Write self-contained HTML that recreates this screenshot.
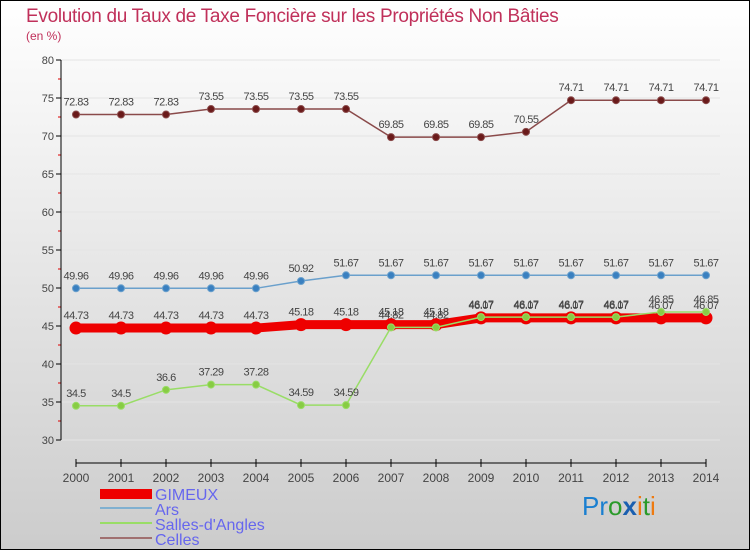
<!DOCTYPE html>
<html><head><meta charset="utf-8"><style>
html,body{margin:0;padding:0}
body{width:750px;height:550px;overflow:hidden}
svg text{font-family:"Liberation Sans",sans-serif}
</style></head><body>
<svg id="c" width="750" height="550" xmlns="http://www.w3.org/2000/svg">
<defs><linearGradient id="bg" x1="0" y1="0" x2="0" y2="1"><stop offset="0" stop-color="#ffffff"/><stop offset="1" stop-color="#cccccc"/></linearGradient></defs>
<rect x="0.5" y="0.5" width="749" height="549" fill="url(#bg)" stroke="#000"/>
<text x="26" y="22" font-size="19" fill="#c0305a" letter-spacing="-0.3">Evolution du Taux de Taxe Foncière sur les Propriétés Non Bâties</text>
<text x="26" y="40" font-size="12" fill="#c0305a">(en %)</text>
<g id="grid"></g><g id="axes"></g><g id="series"></g>
<g>
<rect x="100" y="489" width="52" height="10" fill="#e00"/>
<text x="155" y="500" font-size="16" fill="#6666ee">GIMEUX</text>
<line x1="100" y1="508" x2="152" y2="508" stroke="#80b0d0" stroke-width="2"/>
<text x="155" y="515" font-size="16" fill="#6666ee">Ars</text>
<line x1="100" y1="523" x2="152" y2="523" stroke="#99dd66" stroke-width="2"/>
<text x="155" y="530" font-size="16" fill="#6666ee">Salles-d'Angles</text>
<line x1="100" y1="538" x2="152" y2="538" stroke="#a07070" stroke-width="2"/>
<text x="155" y="545" font-size="16" fill="#6666ee">Celles</text>
</g>
<text x="582" y="515" font-size="26"><tspan fill="#1a7fd0">Pr</tspan><tspan fill="#2a9a2a">o</tspan><tspan fill="#1a5fb0" font-weight="bold">x</tspan><tspan fill="#ee7a10">i</tspan><tspan fill="#2a9a2a">t</tspan><tspan fill="#ee7a10">i</tspan></text>
</svg>
<script>
const years=[2000,2001,2002,2003,2004,2005,2006,2007,2008,2009,2010,2011,2012,2013,2014];
const gimeux=[44.73,44.73,44.73,44.73,44.73,45.18,45.18,45.18,45.18,46.07,46.07,46.07,46.07,46.07,46.07];
const ars=[49.96,49.96,49.96,49.96,49.96,50.92,51.67,51.67,51.67,51.67,51.67,51.67,51.67,51.67,51.67];
const salles=[34.5,34.5,36.6,37.29,37.28,34.59,34.59,44.82,44.82,46.17,46.17,46.17,46.17,46.85,46.85];
const celles=[72.83,72.83,72.83,73.55,73.55,73.55,73.55,69.85,69.85,69.85,70.55,74.71,74.71,74.71,74.71];
const yTicks=[30,35,40,45,50,55,60,65,70,75,80];
const NS='http://www.w3.org/2000/svg';
const X=i=>76+i*45, Y=v=>440-(v-30)*7.6;
function mk(p,t,a){const e=document.createElementNS(NS,t);for(const k in a)e.setAttribute(k,a[k]);document.getElementById(p).appendChild(e);return e;}
yTicks.forEach(t=>{
 let g=mk('grid','line',{x1:61,x2:720,y1:Y(t),y2:Y(t),stroke:'#e4e4e4'});
 
 
 let tk=mk('axes','line',{x1:56,x2:61,y1:Y(t),y2:Y(t),stroke:'#000'});
 
 
 let l=mk('axes','text',{x:54,y:Y(t)+4,'font-size':11,'text-anchor':'end',fill:'#444'});l.textContent=t;
 
 
 if(t<80){let m=mk('axes','line',{x1:58,x2:61,y1:Y(t+2.5),y2:Y(t+2.5),stroke:'#d00'});
 
 }
});
let ya=mk('axes','line',{x1:61,x2:61,y1:Y(80),y2:Y(30),stroke:'#000'});


let xa=mk('axes','line',{x1:X(0),x2:X(14),y1:463,y2:463,stroke:'#000'});


years.forEach((y,i)=>{
 let tk=mk('axes','line',{x1:X(i),x2:X(i),y1:459,y2:467,stroke:'#000'});
 
 
 let l=mk('axes','text',{x:X(i),y:482,'font-size':12,'text-anchor':'middle',fill:'#444'});l.textContent=y;
 
 
});
function series(name,vals,color,dot,w,r){
 let pl=mk('series','polyline',{points:vals.map((v,i)=>X(i)+','+Y(v)).join(' '),fill:'none',stroke:color,'stroke-width':w});
 
 
 vals.forEach((v,i)=>{
  let c=mk('series','circle',{cx:X(i),cy:Y(v),r:r,fill:dot,stroke:color,'stroke-width':1});
  
  
  let t=mk('series','text',{x:X(i),y:Y(v)-9,'font-size':11,'text-anchor':'middle',fill:'#444','letter-spacing':'-0.5'});t.textContent=v;
  
  
 });
}
series('celles',celles,'#8a4a4a','#6a1a1a',1.5,3.5);
series('ars',ars,'#6aa0cc','#3a80c0',1.5,3.5);
series('gimeux',gimeux,'#ee0000','#ee0000',9,6);
series('salles',salles,'#99dd66','#88cc44',1.5,3.5);
</script>
</body></html>
